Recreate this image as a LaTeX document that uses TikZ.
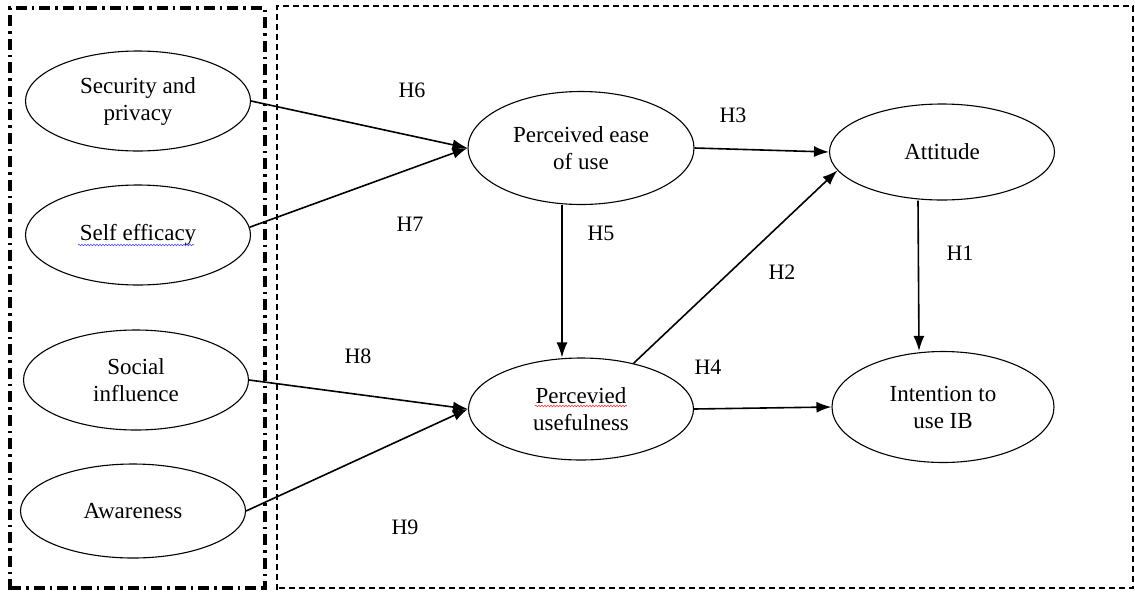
\documentclass[tikz,border=0pt]{standalone}
\usepackage{fontspec}
\setmainfont{Liberation Serif}
\usetikzlibrary{shapes.geometric,arrows.meta,decorations.pathmorphing}
\tikzset{
	construct/.style={draw, ellipse, line width=1.1pt, inner sep=0pt, align=center,
		minimum width=225pt, minimum height=100pt, font=\fontsize{23}{27}\selectfont},
	hyp/.style={font=\fontsize{22}{26}\selectfont},
	path/.style={line width=1.6pt, -{Latex[length=15pt,width=11pt]}},
	spellmark/.style={line width=0.6pt, decorate, decoration={snake, segment length=3pt, amplitude=0.8pt}}
}

\begin{document}
\begin{tikzpicture}[x=1pt, y=-1pt]
			%%%%% START %%%%%
			
			\useasboundingbox (0, 0) rectangle (1135, 592);
			
			\draw[line width=3.2pt, dash pattern=on 11pt off 5pt on 2.5pt off 5pt] (10, 590) -- (10, 8) -- (265, 8) -- (265, 590);
			\draw[line width=3.2pt, dash pattern=on 11pt off 5pt on 2.5pt off 5pt] (10, 588) -- (265, 588);
			\draw[line width=1.2pt, dash pattern=on 6pt off 4pt] (277, 590) -- (277, 6) -- (1133, 6) -- (1133, 588) -- (277, 588);
			
			\node[construct] (sec) at (138, 101) {Security and\\privacy};
			\node[construct] (self) at (138, 235) {Self efficacy};
			\node[construct] (soc) at (136, 380) {Social\\influence};
			\node[construct, minimum height=94pt] (aware) at (133, 511) {Awareness};
			
			\node[construct, minimum width=226pt, minimum height=113pt] (peou) at (581, 148) {Perceived ease\\of use};
			\node[construct, minimum height=102pt] (pu) at (581, 409) {Percevied\\usefulness};
			\node[construct, minimum height=96pt] (att) at (942, 152) {Attitude};
			\node[construct, minimum width=222pt, minimum height=111pt] (intent) at (943, 407) {Intention to\\use IB};
			
			\draw[spellmark, blue!70] ([shift={(-60, 10)}]self.center) -- ++(116, 0);
			\draw[spellmark, red!80] ([shift={(-46, -3)}]pu.center) -- ++(92, 0);
			
			\draw[path] (sec.east) -- (peou.west);
			\draw[path] (self.4) -- (peou.west);
			\draw[path] (soc.east) -- (pu.west);
			\draw[path] (aware.east) -- (pu.west);
			\draw[path] (peou.east) -- (att.west);
			\draw[path] ([xshift=-19pt]peou.south) -- ([xshift=-19pt]pu.north);
			\draw[path] (pu.41) -- (att.190);
			\draw[path] (pu.east) -- (intent.west);
			\draw[path] ([xshift=-24pt]att.south) -- ([xshift=-24pt]intent.north);
			
			\node[hyp] (h6) at (412, 90) {H6};
			\node[hyp] (h7) at (410, 224) {H7};
			\node[hyp] (h5) at (601, 233) {H5};
			\node[hyp] (h3) at (733, 115) {H3};
			\node[hyp] (h2) at (782, 272) {H2};
			\node[hyp] (h1) at (960, 253) {H1};
			\node[hyp] (h8) at (358, 356) {H8};
			\node[hyp] (h4) at (708, 367) {H4};
			\node[hyp] (h9) at (405, 527) {H9};
			
			%%%%% END %%%%%
		\end{tikzpicture}
\end{document}
